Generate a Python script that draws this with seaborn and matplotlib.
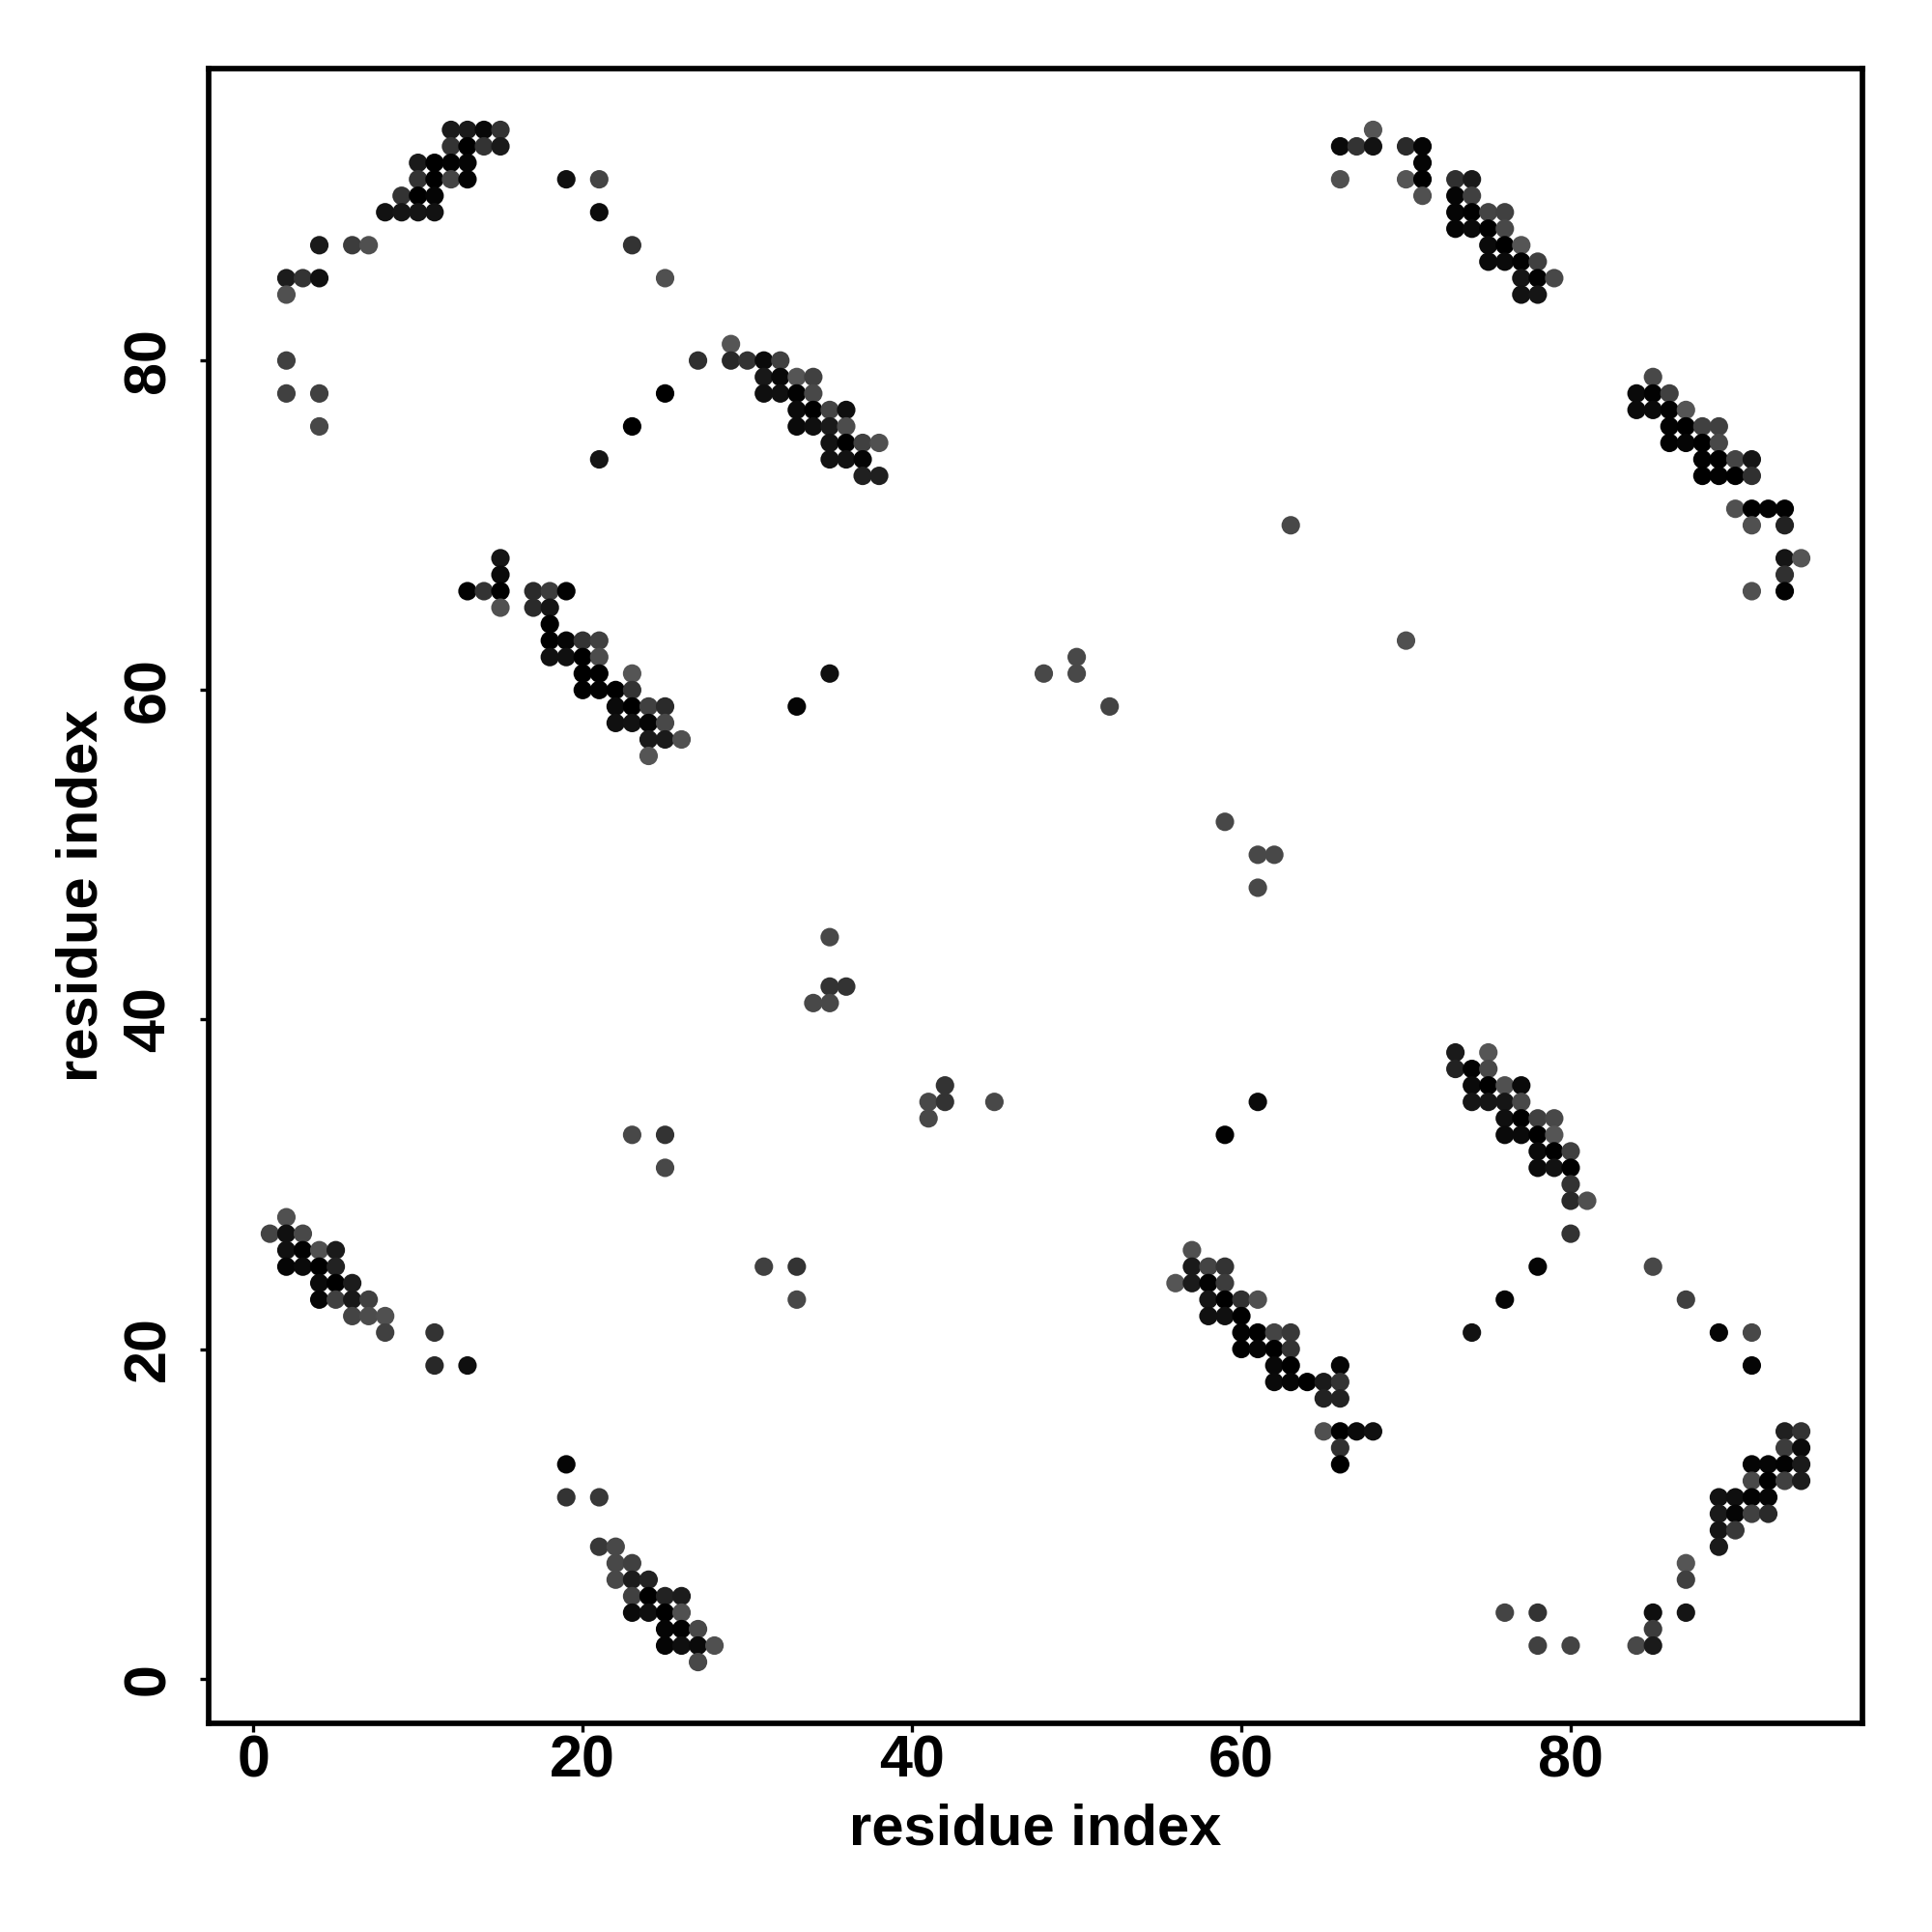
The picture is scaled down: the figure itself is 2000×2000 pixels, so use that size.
import matplotlib
matplotlib.use('Agg')
import matplotlib.pyplot as plt
import pandas as pd
import seaborn as sns

# contact map, shade is grey level 0-255
row_y = [94, 93, 92, 91, 90, 89, 88, 87, 86, 85, 84, 81, 80, 79, 78, 77, 76, 75, 74, 73,
         71, 70, 68, 67, 66, 65, 64, 63, 62, 61, 60, 59, 58, 57, 56, 52, 50, 48, 45, 42,
         41, 38, 37, 36, 35, 34, 33, 32, 31, 30, 29, 28, 27, 26, 25, 24, 23, 22, 21, 20,
         19, 18, 17, 15, 14, 13, 12, 11, 10, 9, 8, 7, 6, 5, 4, 3, 2, 1]
row_x = [
    [12, 13, 14, 15, 68],
    [12, 13, 14, 15, 66, 67, 68, 70, 71],
    [10, 11, 12, 13, 71],
    [10, 11, 12, 13, 19, 21, 66, 70, 71, 73, 74],
    [9, 10, 11, 71, 73, 74],
    [8, 9, 10, 11, 21, 73, 74, 75, 76],
    [73, 74, 75, 76],
    [4, 6, 7, 23, 75, 76, 77],
    [75, 76, 77, 78],
    [2, 3, 4, 25, 77, 78, 79],
    [2, 77, 78],
    [29],
    [2, 27, 29, 30, 31, 32],
    [31, 32, 33, 34, 85],
    [2, 4, 25, 31, 32, 33, 34, 84, 85, 86],
    [33, 34, 35, 36, 84, 85, 86, 87],
    [4, 23, 33, 34, 35, 36, 86, 87, 88, 89],
    [35, 36, 37, 38, 86, 87, 88, 89],
    [21, 35, 36, 37, 88, 89, 90, 91],
    [37, 38, 88, 89, 90, 91],
    [90, 91, 92, 93],
    [63, 91, 93],
    [15, 93, 94],
    [15, 93],
    [13, 14, 15, 17, 18, 19, 91, 93],
    [15, 17, 18],
    [18],
    [18, 19, 20, 21, 70],
    [18, 19, 20, 21, 50],
    [20, 21, 23, 35, 48, 50],
    [20, 21, 22, 23],
    [22, 23, 24, 25, 33, 52],
    [22, 23, 24, 25],
    [24, 25, 26],
    [24],
    [59],
    [61, 62],
    [61],
    [35],
    [35, 36],
    [34, 35],
    [73, 75],
    [73, 74, 75],
    [42, 74, 75, 76, 77],
    [41, 42, 45, 61, 74, 75, 76, 77],
    [41, 76, 77, 78, 79],
    [23, 25, 59, 76, 77, 78, 79],
    [78, 79, 80],
    [25, 78, 79, 80],
    [80],
    [80, 81],
    [2],
    [1, 2, 3, 80],
    [2, 3, 4, 5, 57],
    [2, 3, 4, 5, 31, 33, 57, 58, 59, 78, 85],
    [4, 5, 6, 56, 57, 58, 59],
    [4, 5, 6, 7, 33, 58, 59, 60, 61, 76, 87],
    [6, 7, 8, 58, 59, 60],
    [8, 11, 60, 61, 62, 63, 74, 89, 91],
    [60, 61, 62, 63],
    [11, 13, 62, 63, 66, 91],
    [62, 63, 64, 65, 66],
    [65, 66],
    [65, 66, 67, 68, 93, 94],
    [66, 93, 94],
    [19, 66, 91, 92, 93, 94],
    [91, 92, 93, 94],
    [19, 21, 89, 90, 91, 92],
    [89, 90, 91, 92],
    [89, 90],
    [21, 22, 89],
    [22, 23, 87],
    [22, 23, 24, 87],
    [23, 24, 25, 26],
    [23, 24, 25, 26, 76, 78, 85, 87],
    [25, 26, 27, 85],
    [25, 26, 27, 28, 78, 80, 84, 85],
    [27],
]
row_shade = [
    [0x1a, 0x1a, 0x08, 0x33, 0x55],
    [0x33, 0x00, 0x33, 0x1a, 0x0a, 0x33, 0x12, 0x2a, 0x05],
    [0x1a, 0x00, 0x02, 0x05, 0x05],
    [0x33, 0x00, 0x44, 0x02, 0x10, 0x44, 0x50, 0x55, 0x00, 0x30, 0x1a],
    [0x33, 0x00, 0x05, 0x50, 0x05, 0x40],
    [0x12, 0x15, 0x15, 0x12, 0x0c, 0x05, 0x00, 0x44, 0x40],
    [0x05, 0x0a, 0x00, 0x48],
    [0x1a, 0x3c, 0x50, 0x33, 0x0a, 0x00, 0x55],
    [0x0a, 0x0a, 0x02, 0x40],
    [0x1c, 0x33, 0x10, 0x50, 0x15, 0x02, 0x48],
    [0x50, 0x12, 0x15],
    [0x55],
    [0x40, 0x30, 0x28, 0x33, 0x0a, 0x40],
    [0x18, 0x08, 0x55, 0x40, 0x48],
    [0x40, 0x40, 0x00, 0x0f, 0x10, 0x02, 0x48, 0x0a, 0x02, 0x40],
    [0x0a, 0x00, 0x44, 0x0f, 0x0a, 0x0a, 0x02, 0x55],
    [0x48, 0x00, 0x0a, 0x0f, 0x1a, 0x4c, 0x02, 0x00, 0x40, 0x40],
    [0x12, 0x00, 0x40, 0x50, 0x02, 0x05, 0x00, 0x48],
    [0x15, 0x12, 0x12, 0x05, 0x02, 0x00, 0x44, 0x15],
    [0x20, 0x20, 0x00, 0x02, 0x00, 0x30],
    [0x50, 0x00, 0x02, 0x02],
    [0x48, 0x50, 0x22],
    [0x15, 0x15, 0x55],
    [0x0a, 0x30],
    [0x02, 0x33, 0x00, 0x2a, 0x3c, 0x02, 0x50, 0x02],
    [0x50, 0x2a, 0x15],
    [0x00],
    [0x00, 0x05, 0x33, 0x40, 0x50],
    [0x10, 0x10, 0x00, 0x4c, 0x48],
    [0x00, 0x00, 0x55, 0x10, 0x48, 0x48],
    [0x00, 0x02, 0x00, 0x33],
    [0x0a, 0x00, 0x40, 0x2a, 0x05, 0x44],
    [0x10, 0x12, 0x05, 0x48],
    [0x1a, 0x1a, 0x50],
    [0x55],
    [0x48],
    [0x48, 0x48],
    [0x48],
    [0x48],
    [0x33, 0x33],
    [0x48, 0x48],
    [0x1a, 0x55],
    [0x22, 0x02, 0x48],
    [0x33, 0x0a, 0x00, 0x50, 0x0a],
    [0x48, 0x33, 0x48, 0x0a, 0x15, 0x15, 0x15, 0x48],
    [0x48, 0x0f, 0x00, 0x40, 0x48],
    [0x48, 0x33, 0x02, 0x0a, 0x0a, 0x00, 0x55],
    [0x0a, 0x00, 0x40],
    [0x48, 0x0a, 0x12, 0x00],
    [0x33],
    [0x2a, 0x50],
    [0x50],
    [0x44, 0x10, 0x48, 0x33],
    [0x10, 0x02, 0x50, 0x1a, 0x50],
    [0x05, 0x0a, 0x00, 0x22, 0x40, 0x33, 0x1a, 0x44, 0x33, 0x05, 0x48],
    [0x0a, 0x00, 0x1c, 0x55, 0x1a, 0x02, 0x3c],
    [0x05, 0x40, 0x18, 0x40, 0x48, 0x15, 0x00, 0x30, 0x50, 0x05, 0x40],
    [0x44, 0x4c, 0x50, 0x10, 0x10, 0x00],
    [0x40, 0x33, 0x02, 0x00, 0x44, 0x38, 0x12, 0x05, 0x48],
    [0x00, 0x05, 0x00, 0x33],
    [0x28, 0x0f, 0x08, 0x00, 0x05, 0x05],
    [0x0a, 0x05, 0x00, 0x1a, 0x33],
    [0x22, 0x22],
    [0x50, 0x00, 0x0a, 0x10, 0x20, 0x33],
    [0x30, 0x3c, 0x0a],
    [0x05, 0x00, 0x05, 0x05, 0x02, 0x1a],
    [0x48, 0x00, 0x40, 0x1c],
    [0x33, 0x38, 0x12, 0x0f, 0x02, 0x05],
    [0x1a, 0x05, 0x40, 0x2a],
    [0x15, 0x38],
    [0x38, 0x48, 0x1a],
    [0x48, 0x40, 0x55],
    [0x48, 0x1c, 0x22, 0x40],
    [0x40, 0x00, 0x22, 0x1c],
    [0x0a, 0x0f, 0x00, 0x50, 0x44, 0x33, 0x0f, 0x15],
    [0x05, 0x02, 0x48, 0x3c],
    [0x05, 0x0f, 0x0a, 0x50, 0x40, 0x44, 0x48, 0x1a],
    [0x48],
]
tick_pos = [0, 20, 40, 60, 80]

# one line per contact for seaborn
rows = []
for y, xs, shades in zip(row_y, row_x, row_shade, strict=True):
    for x, g in zip(xs, shades, strict=True):
        rows.append((x, y, g))
df = pd.DataFrame(rows, columns=['x', 'y', 'shade'])

sns.set_theme(style='white')
plt.rcParams['font.family'] = ['Liberation Sans', 'DejaVu Sans']

fig = plt.figure(figsize=(20, 20), dpi=100)
ax = fig.add_axes([216/2000, 1 - 1784/2000, (1928-216)/2000, (1784-71)/2000])

sns.scatterplot(data=df, x='x', y='y', hue='shade', palette='gray', hue_norm=(0, 255),
                s=190, linewidth=0, legend=False, ax=ax)

ax.set_xlim(-2.72, 97.72)
ax.set_ylim(-2.72, 97.72)
ax.set_xticks(tick_pos)
ax.set_yticks(tick_pos)
ax.tick_params(axis='both', length=6.5, width=2.4, color='black', direction='out', bottom=True, left=True,
               labelsize=44, labelcolor='black')
ax.tick_params(axis='x', pad=2)
ax.tick_params(axis='y', pad=17)
for lab in ax.get_xticklabels() + ax.get_yticklabels():
    lab.set_fontweight('bold')
for lab in ax.get_yticklabels():
    lab.set_rotation(90)
    lab.set_va('center')
ax.set_xlabel('residue index', fontsize=43, fontweight='bold', color='black', labelpad=10)
ax.set_ylabel('residue index', fontsize=43, fontweight='bold', color='black', labelpad=10)
for side in ax.spines.values():
    side.set_visible(True)
    side.set_color('black')
    side.set_linewidth(4.1)

fig.savefig('out.png', dpi=100, facecolor='white')
